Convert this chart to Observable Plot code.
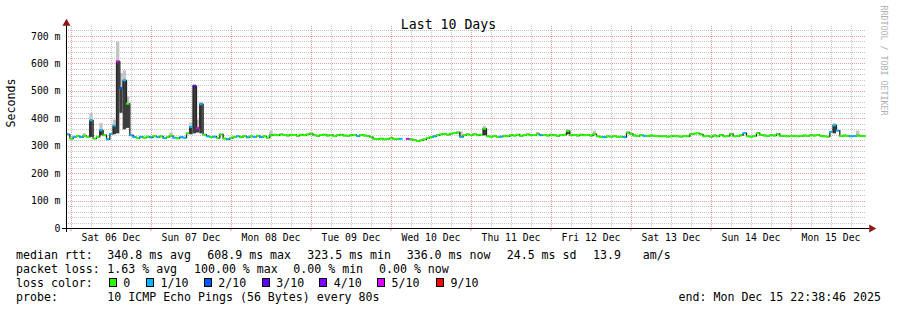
<!DOCTYPE html>
<html>
<head>
<meta charset="utf-8">
<script src="https://cdn.jsdelivr.net/npm/d3@7"></script>
<script src="https://cdn.jsdelivr.net/npm/@observablehq/plot@0.6"></script>
<style>
  html, body { margin: 0; padding: 0; background: #fff; }
  #wrap { position: relative; width: 897px; height: 310px; font-family: "DejaVu Sans Mono", monospace; color: #000; }
  #wrap svg { display: block; }
  .lg { position: absolute; font-size: 11.6px; line-height: 14px; white-space: pre; }
  .box { position: absolute; width: 8px; height: 9px; box-sizing: border-box; border: 1px solid #000; }
</style>
</head>
<body>
<div id="wrap"></div>
<script>
// ---------------- data ----------------
const startTime = new Date(2025, 11, 5, 22, 38, 46);   // 10 days ending Mon Dec 15 22:38:46
const sampleHours = 1;

// median RTT (ms), one value per hour
const rttMs = [
  343,328,334,337,333,338,334,394,328,334,358,340,325,345,375,609,512,540,455,340,333,330,334,331,
  335,332,337,333,336,330,334,338,331,329,333,331,347,370,519,366,453,342,336,333,335,330,343,328,
  325,330,334,336,333,337,332,336,334,338,333,336,331,340,342,340,343,341,339,342,341,338,342,340,
  343,345,340,338,341,342,339,341,337,340,342,339,338,340,341,337,341,339,337,333,327,326,328,325,
  327,329,326,327,327,null,327,325,322,319,321,325,330,333,336,340,343,345,342,346,348,350,334,340,
  343,341,344,340,342,364,336,335,337,334,335,338,336,340,339,342,338,341,343,340,341,344,340,341,
  339,342,340,338,341,342,355,340,341,339,342,340,341,339,344,336,334,333,336,335,337,334,335,333,
  350,345,339,337,340,338,337,339,338,337,336,337,335,336,338,336,335,337,336,344,346,347,343,336,
  337,335,339,336,341,336,337,345,336,337,340,348,336,335,337,348,341,339,338,340,339,345,337,338,
  336,337,338,336,337,339,338,340,339,341,338,336,335,352,376,357,337,339,338,336,337,339,338,337
];
// lost pings out of 10, per hour
const lossCount = [
  1,0,1,0,1,0,0,1,0,0,1,0,1,1,1,5,2,1,0,1,1,0,1,0,
  0,1,0,1,0,1,0,0,1,0,1,1,0,1,3,5,1,0,1,0,1,0,0,0,
  1,0,0,1,0,0,1,0,1,0,1,0,0,0,0,0,0,0,0,0,0,0,0,0,
  0,0,0,0,0,0,0,0,0,0,0,0,0,0,0,1,0,0,0,0,0,0,0,0,
  0,0,0,0,1,0,5,0,0,0,0,0,0,0,1,0,0,0,0,0,0,0,1,0,
  0,0,0,0,0,0,0,0,0,0,1,0,0,0,0,0,0,0,0,0,0,0,1,0,
  0,0,0,0,0,0,0,0,0,0,0,0,0,0,0,0,0,1,0,0,0,0,0,1,
  0,0,0,0,0,1,0,0,0,0,0,0,0,0,0,0,0,0,0,0,0,0,0,0,
  0,0,0,0,0,0,0,0,0,0,0,1,0,0,0,0,0,0,0,0,0,0,0,0,
  0,0,0,0,0,0,0,0,0,0,0,0,0,1,1,1,0,0,0,1,1,0,0,0
];
// smoke (spread of individual pings), sparse
const smokeHour = [5, 7, 10, 14, 15, 16, 17, 18, 31, 37, 38, 39, 40, 61, 73, 118, 125, 141, 150, 158, 230, 237];
const smokeLo   = [335,332,338,342,345,420,360,365,335,342,345,348,345,338,342,335,338,340,342,340,345,336];
const smokeHi   = [346,420,383,395,680,565,575,480,348,385,525,395,460,355,350,352,372,350,360,355,382,355];

const yTickValues = [0, 100, 200, 300, 400, 500, 600, 700];
const yTickLabels = ["0", "100 m", "200 m", "300 m", "400 m", "500 m", "600 m", "700 m"];
const dayLabels = ["Sat 06 Dec", "Sun 07 Dec", "Mon 08 Dec", "Tue 09 Dec", "Wed 10 Dec",
                   "Thu 11 Dec", "Fri 12 Dec", "Sat 13 Dec", "Sun 14 Dec", "Mon 15 Dec"];

const lossLevels = [0, 1, 2, 3, 4, 5, 9];
const lossLabels = ["0", "1/10", "2/10", "3/10", "4/10", "5/10", "9/10"];
const lossColors = ["#26ff00", "#00b8ff", "#0059ff", "#5e00ff", "#7e00ff", "#dd00ff", "#ff0000"];

const titleText = "Last 10 Days";
const yAxisLabel = "Seconds";
const creditText = "RRDTOOL / TOBI OETIKER";
const rttHead = "median rtt:";
const rttStats = ["340.8 ms avg", "608.9 ms max", "323.5 ms min", "336.0 ms now", "24.5 ms sd", "13.9", "am/s"];
const lossHead = "packet loss:";
const lossStats = ["1.63 % avg", "100.00 % max", "0.00 % min", "0.00 % now"];
const colorHead = "loss color:";
const probeHead = "probe:";
const probeText = "10 ICMP Echo Pings (56 Bytes) every 80s";
const endText = "end: Mon Dec 15 22:38:46 2025";

// ---------------- build ----------------
const H = 3600000 * sampleHours;
const tAt = i => new Date(+startTime + i * H);
const endTime = tAt(rttMs.length);
const colorOf = n => lossColors[lossLevels.indexOf(n)];

const series = rttMs.map((v, i) => ({t: tAt(i), t2: tAt(i + 1), v, color: colorOf(lossCount[i])}));
// split each smoke band at the median: dense (dark) part below, sparse (light) part above
const smoke = smokeHour.map((h, k) => ({t: tAt(h), t2: tAt(h + 1), lo: smokeLo[k], hi: smokeHi[k], v: rttMs[h]}));
const smokeDark = smoke.map(d => ({...d, hi: Math.min(d.v, d.hi)})).filter(d => d.hi > d.lo);
const smokeLight = smoke.map(d => ({...d, lo: Math.max(d.v, d.lo)})).filter(d => d.hi > d.lo);

const midnights = d3.timeDay.range(startTime, endTime);
const sixHours = d3.timeHour.every(6).range(startTime, endTime).filter(d => d.getHours() !== 0);
const noons = midnights.map(d => d3.timeHour.offset(d, 12));
const yMinor = d3.range(20, 737, 20).filter(v => v % 100 !== 0);
const yMajor = yTickValues.filter(v => v > 0);

const minorC = "#c6c6c6", majorC = "#f39a9a", arrowC = "#8b1a1a";

const chart = Plot.plot({
  width: 897, height: 245,
  marginLeft: 66, marginRight: 31, marginTop: 26, marginBottom: 17,
  style: {fontFamily: "DejaVu Sans Mono", fontSize: "9.8px", background: "#fff", color: "#000", overflow: "visible"},
  x: {type: "time", domain: [startTime, endTime]},
  y: {domain: [0, 736.4]},
  color: {type: "identity"},
  marks: [
    Plot.ruleY(yMinor, {stroke: minorC, strokeDasharray: "1,1", shapeRendering: "crispEdges"}),
    Plot.ruleX(sixHours, {stroke: minorC, strokeDasharray: "1,1", shapeRendering: "crispEdges"}),
    Plot.ruleY(yMajor, {stroke: majorC, strokeDasharray: "1,1", shapeRendering: "crispEdges"}),
    Plot.ruleX(midnights, {stroke: majorC, strokeDasharray: "1,1", shapeRendering: "crispEdges"}),
    Plot.rect(smokeLight, {x1: "t", x2: "t2", y1: "lo", y2: "hi", fill: "#c4c4c4"}),
    Plot.rect(smokeDark, {x1: "t", x2: "t2", y1: "lo", y2: "hi", fill: "#3c3c3c"}),
    Plot.line(series, {x: "t", y: "v", curve: "step-after", stroke: "#262626", strokeWidth: 1.3}),
    Plot.ruleY(series.filter(d => d.v != null), {y: "v", x1: "t", x2: "t2", stroke: "color", strokeWidth: 2}),
    Plot.axisX(noons, {tickSize: 0, tickPadding: 6, label: null,
      tickFormat: d => dayLabels[noons.findIndex(n => +n === +d)]}),
    Plot.axisX(midnights, {tickSize: 3, text: null, stroke: majorC, label: null}),
    Plot.axisY(yTickValues, {tickSize: 0, tickPadding: 6, label: null,
      tickFormat: d => yTickLabels[yTickValues.indexOf(d)]}),
    Plot.ruleY([0], {stroke: "#000", insetLeft: -4, insetRight: -3}),
    Plot.ruleX([startTime], {stroke: "#000", insetTop: -2, insetBottom: -4}),
    Plot.dot([0], {frameAnchor: "bottom-right", dx: 5, symbol: "triangle", r: 3, rotate: 90, fill: arrowC, stroke: "none"}),
    Plot.dot([0], {frameAnchor: "top-left", dy: -3, symbol: "triangle", r: 3, fill: arrowC, stroke: "none"}),
    Plot.text([titleText], {frameAnchor: "top", text: d => d, dx: -18, dy: -7, fontSize: 13.2, fill: "#000"}),
    Plot.text([yAxisLabel], {frameAnchor: "left", text: d => d, dx: -55, rotate: -90, fontSize: 11.6, fill: "#000"}),
    Plot.text([creditText], {frameAnchor: "top-right", text: d => d, dx: 20.5, dy: -21, rotate: 90,
      textAnchor: "start", fontSize: 8.3, fill: "#b0b0b0"})
  ]
});

const wrap = document.getElementById("wrap");
wrap.appendChild(chart);

// ---------------- legend (HTML below the SVG) ----------------
function put(text, left, top, right) {
  const s = document.createElement("div");
  s.className = "lg";
  s.textContent = text;
  s.style.top = top + "px";
  if (right != null) s.style.right = right + "px"; else s.style.left = left + "px";
  wrap.appendChild(s);
}
const rowTop = [247.5, 261.5, 275.5, 289.5];
const rttX = [107.3, 207.3, 307.3, 406.7, 506.7, 593, 642.7];
const lossX = [107.3, 194, 293.3, 379];
const boxX = [108.7, 146, 203.7, 261.7, 319.3, 377, 436];

put(rttHead, 16, rowTop[0]);
rttStats.forEach((t, i) => put(t, rttX[i], rowTop[0]));
put(lossHead, 16, rowTop[1]);
lossStats.forEach((t, i) => put(t, lossX[i], rowTop[1]));
put(colorHead, 16, rowTop[2]);
lossLabels.forEach((t, i) => {
  const b = document.createElement("div");
  b.className = "box";
  b.style.left = boxX[i] + "px";
  b.style.top = "278px";
  b.style.background = lossColors[i];
  wrap.appendChild(b);
  put(t, boxX[i] + 14.5, rowTop[2]);
});
put(probeHead, 16, rowTop[3]);
put(probeText, 107.3, rowTop[3]);
put(endText, null, rowTop[3], 16);
</script>
</body>
</html>
